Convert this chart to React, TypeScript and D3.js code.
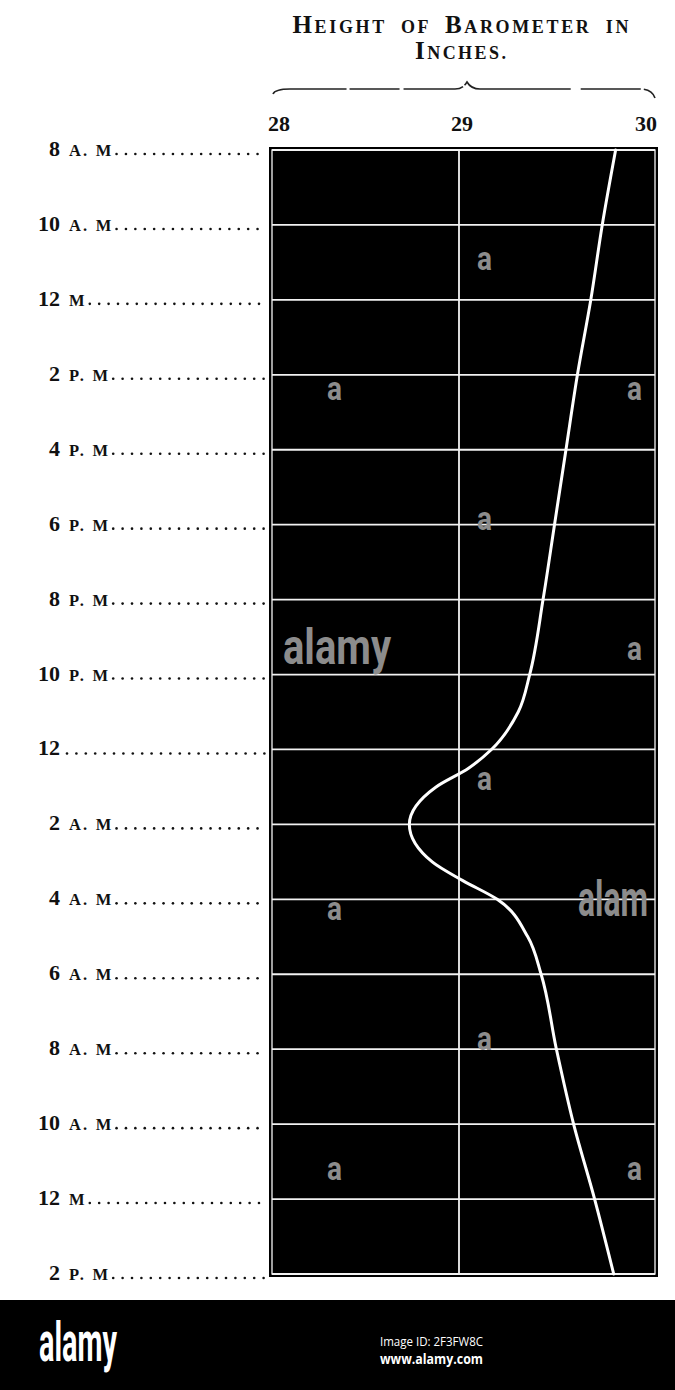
import React, { useEffect, useRef } from "react";
import * as d3 from "d3";

// ---- data ----
const labelHours = [0, 2, 4, 6, 8, 10, 12, 14, 16, 18, 20, 22, 24, 26, 28, 30];
const labelNums = ["8", "10", "12", "2", "4", "6", "8", "10", "12", "2", "4", "6", "8", "10", "12", "2"];
const labelSuffixes = ["A. M", "A. M", "M", "P. M", "P. M", "P. M", "P. M", "P. M", "", "A. M", "A. M", "A. M", "A. M", "A. M", "M", "P. M"];

const tickValues = [28, 29, 30];
const tickLabels = ["28", "29", "30"];

const curveHours = [0, 2, 4, 6, 8, 10, 12, 14, 15, 16, 16.5, 17, 18, 19, 19.5, 20, 21, 22, 24, 26, 28, 30];
const curveInches = [29.82, 29.75, 29.69, 29.62, 29.56, 29.5, 29.44, 29.37, 29.31, 29.17, 29.05, 28.88, 28.74, 28.86, 29.02, 29.2, 29.36, 29.43, 29.51, 29.6, 29.71, 29.81];

const watermarkA = [[485, 258], [335, 388], [635, 388], [485, 518], [635, 648], [485, 778], [335, 908], [485, 1038], [335, 1168], [635, 1168]];

export default function App() {
  const ref = useRef<SVGSVGElement | null>(null);

  useEffect(() => {
    const svg = d3.select(ref.current);
    svg.selectAll("*").remove();
    const W = 675, H = 1390;
    const serif = "'Liberation Serif', 'DejaVu Serif', serif";

    const x = d3.scaleLinear().domain([28, 30]).range([268, 650]);
    const y = d3.scaleLinear().domain([0, 30]).range([150, 1274]);

    svg.append("rect").attr("width", W).attr("height", H).attr("fill", "#fff");

    // Title
    const title = svg.append("g").attr("font-family", serif).attr("font-weight", "bold").attr("fill", "#111");
    const t1 = title.append("text").attr("x", 461).attr("y", 33).attr("text-anchor", "middle").attr("letter-spacing", 1);
    const parts1: [string, number][] = [["H", 25], ["EIGHT", 18], ["  OF  ", 18], ["B", 25], ["AROMETER", 18], ["  IN", 18]];
    parts1.forEach(([s, f]) => t1.append("tspan").attr("font-size", f).attr("xml:space", "preserve").text(s));
    t1.attr("textLength", 337).attr("lengthAdjust", "spacing");
    const t2 = title.append("text").attr("x", 461).attr("y", 59).attr("text-anchor", "middle").attr("letter-spacing", 1);
    t2.append("tspan").attr("font-size", 25).text("I");
    t2.append("tspan").attr("font-size", 18).text("NCHES.");
    t2.attr("textLength", 92).attr("lengthAdjust", "spacing");

    // Brace
    svg.append("path")
      .attr("d", "M273,94 Q275,89 290,89 L455,89 Q463,89 467,82 Q471,89 480,89 L640,89 Q652,89 655,98")
      .attr("fill", "none").attr("stroke", "#222").attr("stroke-width", 1.6)
      .attr("stroke-dasharray", "75 3 50 4 60 2 110 10 60 3 200");

    // Tick labels
    const tl = svg.append("g").attr("font-family", serif).attr("font-weight", "bold").attr("font-size", 22).attr("fill", "#111");
    tickValues.forEach((v, i) => {
      const anchor = i === 0 ? "start" : i === tickValues.length - 1 ? "end" : "middle";
      const dx = i === 0 ? 0 : i === tickValues.length - 1 ? 7 : 3;
      tl.append("text").attr("x", x(v) + dx).attr("y", 131).attr("text-anchor", anchor).text(tickLabels[i]);
    });

    // Frame
    const fl = x(28) + 4, fr = x(30) + 5, ft = y(0), fb = y(30);
    svg.append("rect").attr("x", fl - 3).attr("y", ft - 3).attr("width", fr - fl + 6).attr("height", fb - ft + 6).attr("fill", "#000");
    svg.append("rect").attr("x", fl).attr("y", ft).attr("width", fr - fl).attr("height", fb - ft)
      .attr("fill", "#000").attr("stroke", "#f4f4f4").attr("stroke-width", 1.3);

    // Grid
    const grid = svg.append("g").attr("stroke", "#f2f2f2").attr("stroke-width", 1.8);
    labelHours.forEach(h => {
      grid.append("line").attr("x1", fl).attr("x2", fr).attr("y1", y(h)).attr("y2", y(h));
    });
    grid.append("line").attr("x1", x(29)).attr("x2", x(29)).attr("y1", ft).attr("y2", fb);

    // Watermarks
    const wm = svg.append("g").attr("fill", "#8c8c8c")
      .attr("font-family", "Roboto, 'Liberation Sans', sans-serif").attr("font-weight", "bold");
    watermarkA.forEach(([cx, cy]) => {
      wm.append("text").attr("x", cx - 8).attr("y", cy + 12).attr("font-size", 33)
        .attr("textLength", 15).attr("lengthAdjust", "spacingAndGlyphs").text("a");
    });
    wm.append("text").attr("x", 283).attr("y", 664).attr("font-size", 50)
      .attr("textLength", 108).attr("lengthAdjust", "spacingAndGlyphs").text("alamy");
    wm.append("text").attr("x", 578).attr("y", 916).attr("font-size", 50)
      .attr("textLength", 70).attr("lengthAdjust", "spacingAndGlyphs").text("alam");

    // Curve
    const pts = curveHours.map((h, i) => [x(curveInches[i]), y(h)] as [number, number]);
    const line = d3.line<[number, number]>().x(d => d[0]).y(d => d[1]).curve(d3.curveMonotoneY);
    svg.append("path").attr("d", line(pts)).attr("fill", "none").attr("stroke", "#fff").attr("stroke-width", 3)
      .attr("stroke-linecap", "round");

    // Row labels
    const lab = svg.append("g").attr("font-family", serif).attr("font-weight", "bold").attr("fill", "#111");
    labelHours.forEach((h, i) => {
      const yy = y(h) + 6;
      lab.append("text").attr("x", 60).attr("y", yy).attr("text-anchor", "end").attr("font-size", 22).text(labelNums[i]);
      let endX = 62;
      if (labelSuffixes[i]) {
        const t = lab.append("text").attr("x", 69).attr("y", yy).attr("font-size", 16.5).attr("letter-spacing", 2.2).text(labelSuffixes[i]);
        const n = t.node() as SVGTextElement;
        endX = 69 + n.getComputedTextLength() - 2;
      }
      for (let dx = endX + 5; dx <= 266; dx += 9.4) {
        lab.append("circle").attr("cx", dx).attr("cy", y(h) + 4).attr("r", 1.3).attr("fill", "#111");
      }
    });

    // Bottom banner
    svg.append("rect").attr("x", 0).attr("y", 1300).attr("width", W).attr("height", 90).attr("fill", "#000");
    svg.append("text").attr("x", 39).attr("y", 1361).attr("font-family", "Roboto, 'Liberation Sans', sans-serif")
      .attr("font-weight", "bold").attr("font-size", 56).attr("fill", "#fff")
      .attr("textLength", 78).attr("lengthAdjust", "spacingAndGlyphs").text("alamy");
    svg.append("text").attr("x", 380).attr("y", 1346).attr("font-family", "'Open Sans', sans-serif")
      .attr("font-size", 12).attr("fill", "#fff")
      .attr("textLength", 103).attr("lengthAdjust", "spacingAndGlyphs").text("Image ID: 2F3FW8C");
    svg.append("text").attr("x", 380).attr("y", 1364).attr("font-family", "'Open Sans', sans-serif")
      .attr("font-weight", "bold").attr("font-size", 14).attr("fill", "#fff")
      .attr("textLength", 103).attr("lengthAdjust", "spacingAndGlyphs").text("www.alamy.com");
  }, []);

  return (
    <svg ref={ref} width={675} height={1390} style={{ position: "absolute", left: 0, top: 0, display: "block" }} />
  );
}
